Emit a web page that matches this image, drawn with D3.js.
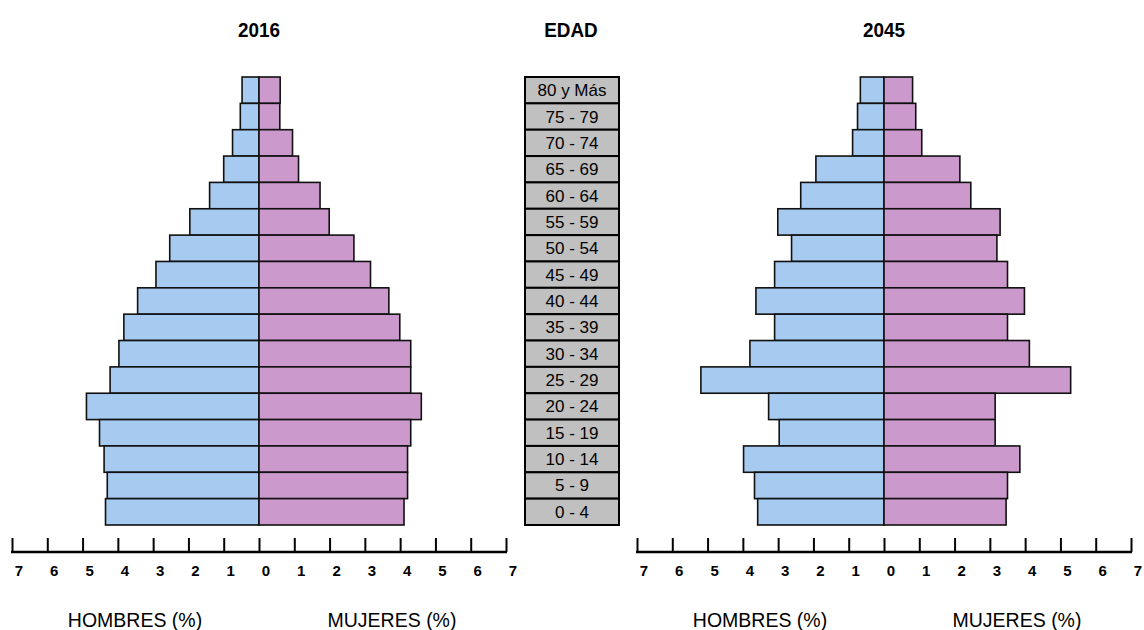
<!DOCTYPE html>
<html>
<head>
<meta charset="utf-8">
<script src="https://cdn.jsdelivr.net/npm/d3@7"></script>
<style>
    body { margin: 0; background: #fff; }
    text { font-family: "Liberation Sans", Arial, sans-serif; fill: #000; }
</style>
</head>
<body>
<div id="chart"></div>
<script>
// Pirámides de población 2016 y 2045

const ageGroups = ['80 y Más', '75 - 79', '70 - 74', '65 - 69', '60 - 64', '55 - 59', '50 - 54',
    '45 - 49', '40 - 44', '35 - 39', '30 - 34', '25 - 29', '20 - 24', '15 - 19', '10 - 14', '5 - 9', '0 - 4'];

const men2016 = [0.48, 0.53, 0.75, 1.0, 1.4, 1.96, 2.53, 2.92, 3.44, 3.83, 3.97, 4.22, 4.89, 4.52, 4.39, 4.3, 4.35];
const women2016 = [0.6, 0.59, 0.95, 1.12, 1.73, 1.99, 2.69, 3.16, 3.68, 3.99, 4.3, 4.3, 4.6, 4.3, 4.21, 4.21, 4.11];

const men2045 = [0.67, 0.75, 0.89, 1.93, 2.36, 3.01, 2.62, 3.1, 3.63, 3.1, 3.8, 5.19, 3.27, 2.97, 3.98, 3.67, 3.58];
const women2045 = [0.81, 0.9, 1.07, 2.15, 2.46, 3.29, 3.2, 3.5, 3.98, 3.5, 4.12, 5.29, 3.15, 3.15, 3.85, 3.5, 3.46];

const tickValues = d3.range(-7, 8);

const width = 1144, height = 630;
const blue = '#a6caf0', pink = '#cc99cc', grey = '#c0c0c0';

const svg = d3.select('#chart').append('svg')
    .attr('width', width)
    .attr('height', height);

const y = d3.scaleBand()
    .domain(ageGroups)
    .range([77, 525])
    .padding(0);

const axisY = 552;

function pyramid(title, men, women, left, right) {
    const x = d3.scaleLinear().domain([-7, 7]).range([left, right]);
    const g = svg.append('g');

    g.append('g').selectAll('rect')
        .data(ageGroups.map((a, i) => ({ age: a, v: men[i] })))
        .join('rect')
        .attr('x', d => x(-d.v))
        .attr('y', d => y(d.age))
        .attr('width', d => x(0) - x(-d.v))
        .attr('height', y.bandwidth())
        .attr('fill', blue)
        .attr('stroke', '#111')
        .attr('stroke-width', 1.6);

    g.append('g').selectAll('rect')
        .data(ageGroups.map((a, i) => ({ age: a, v: women[i] })))
        .join('rect')
        .attr('x', x(0))
        .attr('y', d => y(d.age))
        .attr('width', d => x(d.v) - x(0))
        .attr('height', y.bandwidth())
        .attr('fill', pink)
        .attr('stroke', '#111')
        .attr('stroke-width', 1.6);

    // eje inferior con ticks hacia arriba
    const axis = d3.axisTop(x)
        .tickValues(tickValues)
        .tickSize(14)
        .tickFormat('');
    const ax = g.append('g')
        .attr('transform', `translate(0,${axisY})`)
        .call(axis);
    ax.select('.domain').remove();
    ax.selectAll('.tick line').attr('stroke', '#000').attr('stroke-width', 2);
    ax.append('line')
        .attr('x1', x(-7) - 1).attr('x2', x(7) + 1)
        .attr('stroke', '#000').attr('stroke-width', 2.5);

    g.append('g').selectAll('text')
        .data(tickValues)
        .join('text')
        .attr('x', d => x(d) + 7)
        .attr('y', 576)
        .attr('text-anchor', 'middle')
        .style('font-size', '15px')
        .style('font-weight', 'bold')
        .text(d => Math.abs(d));

    const cx = x(0);
    g.append('text')
        .attr('transform', `translate(${cx},37) scale(0.9,1)`)
        .attr('text-anchor', 'middle')
        .style('font-size', '21px')
        .style('font-weight', 'bold')
        .text(title);

    g.append('text')
        .attr('x', cx - 124).attr('y', 627)
        .attr('text-anchor', 'middle')
        .style('font-size', '19.5px')
        .text('HOMBRES (%)');
    g.append('text')
        .attr('x', cx + 133).attr('y', 627)
        .attr('text-anchor', 'middle')
        .style('font-size', '19.5px')
        .text('MUJERES (%)');
}

pyramid('2016', men2016, women2016, 12, 506);
pyramid('2045', men2045, women2045, 637, 1131);

// columna central de edades
const ages = svg.append('g');
ages.selectAll('rect')
    .data(ageGroups)
    .join('rect')
    .attr('x', 525)
    .attr('y', d => y(d))
    .attr('width', 94)
    .attr('height', y.bandwidth())
    .attr('fill', grey)
    .attr('stroke', '#000')
    .attr('stroke-width', 2);

ages.selectAll('text')
    .data(ageGroups)
    .join('text')
    .attr('x', 572)
    .attr('y', d => y(d) + y.bandwidth() / 2 + 6)
    .attr('text-anchor', 'middle')
    .style('font-size', '17px')
    .text(d => d);

svg.append('text')
    .attr('transform', 'translate(571,37) scale(0.9,1)')
    .attr('text-anchor', 'middle')
    .style('font-size', '21px')
    .style('font-weight', 'bold')
    .text('EDAD');
</script>
</body>
</html>
